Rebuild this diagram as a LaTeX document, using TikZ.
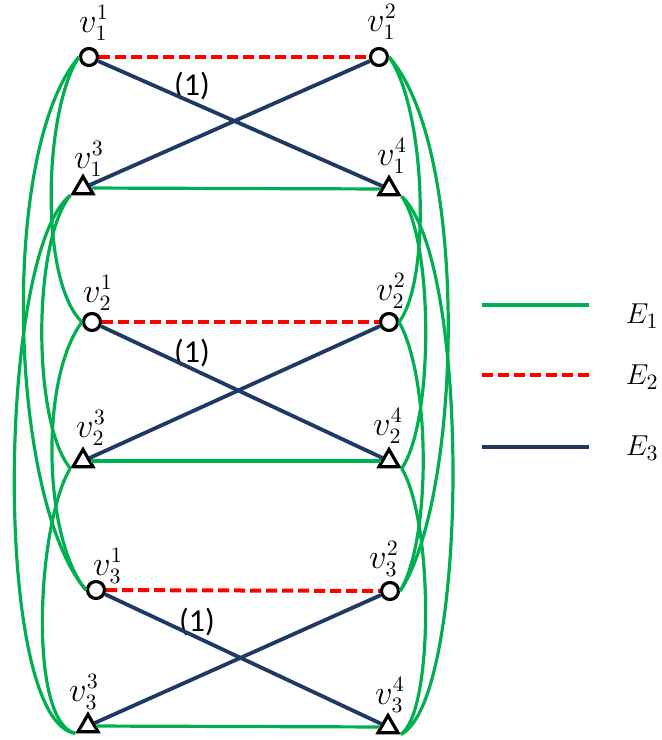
\documentclass[tikz,border=0pt]{standalone}
\usepackage{fontspec}
\setmainfont{Carlito}
\usetikzlibrary{shapes.geometric}
\definecolor{egreen}{RGB}{0,176,80}
\definecolor{ered}{RGB}{255,0,0}
\definecolor{eblue}{RGB}{31,56,100}
\tikzset{
  every node/.style={font=\fontsize{16}{18}\selectfont},
  circ/.style={circle,draw=black,fill=white,line width=1.6pt,minimum size=8.5pt,inner sep=0pt},
  tri/.style={regular polygon,regular polygon sides=3,draw=black,fill=white,line width=1.6pt,minimum size=11.5pt,inner sep=0pt},
  gedge/.style={draw=egreen,line width=1.6pt},
  redge/.style={draw=ered,line width=2pt,dash pattern=on 5.5pt off 2.5pt},
  bedge/.style={draw=eblue,line width=1.9pt},
  lbl/.style={inner sep=0pt},
  numlbl/.style={inner sep=0pt,font=\fontsize{16}{18}\selectfont},
  leglbl/.style={inner sep=0pt,anchor=east,font=\fontsize{15}{17}\selectfont}
}
\begin{document}
\begin{tikzpicture}[x=0.5pt,y=-0.5pt]
\useasboundingbox (0,0) rectangle (662,740);
% nodes
\node[circ] (v11) at (89,57) {};
\node[circ] (v12) at (379,57) {};
\node[tri]  (v13) at (83,188) {};
\node[tri]  (v14) at (389,189) {};
\node[circ] (v21) at (92,322) {};
\node[circ] (v22) at (389,322) {};
\node[tri]  (v23) at (83,461) {};
\node[tri]  (v24) at (389,461) {};
\node[circ] (v31) at (96,590) {};
\node[circ] (v32) at (390,591) {};
\node[tri]  (v33) at (88,726) {};
\node[tri]  (v34) at (388,727) {};
% labels
\node[lbl] (l11) at (94,23) {$v_1^1$};
\node[lbl] (l12) at (382,22) {$v_1^2$};
\node[lbl] (l13) at (89,159) {$v_1^3$};
\node[lbl] (l14) at (392,156) {$v_1^4$};
\node[lbl] (l21) at (98,293) {$v_2^1$};
\node[lbl] (l22) at (391,291) {$v_2^2$};
\node[lbl] (l23) at (91,428) {$v_2^3$};
\node[lbl] (l24) at (388,426) {$v_2^4$};
\node[lbl] (l31) at (108,566) {$v_3^1$};
\node[lbl] (l32) at (384,559) {$v_3^2$};
\node[lbl] (l33) at (84,692) {$v_3^3$};
\node[lbl] (l34) at (390,695) {$v_3^4$};
\node[numlbl] (o1) at (192,86) {(1)};
\node[numlbl] (o2) at (192,353) {(1)};
\node[numlbl] (o3) at (197,622) {(1)};
% green curves, left
\begin{scope}[gedge]
\draw (v11.west) .. controls +(-35,53) and +(-43,-42) .. (v21.west);
\draw (v11.west) .. controls +(-80,93) and +(-77,-90) .. (v31.west);
\draw (v21.west) .. controls +(-43,58) and +(-42,-50) .. (v31.west);
\draw (v13.corner 2) .. controls +(-38,47) and +(-38,-46) .. (v23.corner 2);
\draw (v13.corner 2) .. controls +(-73,57) and +(-83,-12) .. (v33.corner 2);
\draw (v23.corner 2) .. controls +(-33,54) and +(-48,-12) .. (v33.corner 2);
% right
\draw (v12.east) .. controls +(37,53) and +(32,-42) .. (v22.east);
\draw (v12.east) .. controls +(82,93) and +(61,-91) .. (v32.east);
\draw (v22.east) .. controls +(32,58) and +(31,-51) .. (v32.east);
\draw (v14.corner 3) .. controls +(32,46) and +(32,-46) .. (v24.corner 3);
\draw (v14.corner 3) .. controls +(70,66) and +(68,-32) .. (v34.corner 3);
\draw (v24.corner 3) .. controls +(32,54) and +(33,-22) .. (v34.corner 3);
% horizontal
\draw (v13) -- (v14);
\draw (v23) -- (v24);
\draw (v33) -- (v34);
\end{scope}
% blue and red
\draw[bedge] (v11) -- (v14);
\draw[bedge] (v13) -- (v12);
\draw[bedge] (v21) -- (v24);
\draw[bedge] (v23) -- (v22);
\draw[bedge] (v31) -- (v34);
\draw[bedge] (v33) -- (v32);
\draw[redge] (v11) -- (v12);
\draw[redge] (v21) -- (v22);
\draw[redge] (v31) -- (v32);
% legend
\coordinate (g1) at (482,305);
\coordinate (g2) at (589,305);
\coordinate (r1) at (482,375);
\coordinate (r2) at (589,375);
\coordinate (b1) at (482,447);
\coordinate (b2) at (589,447);
\draw[gedge,line width=2pt] (g1) -- (g2);
\draw[redge] (r1) -- (r2);
\draw[bedge] (b1) -- (b2);
\node[leglbl] (e1) at (659,316) {$E_1$};
\node[leglbl] (e2) at (659,377) {$E_2$};
\node[leglbl] (e3) at (659,448) {$E_3$};
\end{tikzpicture}
\end{document}
